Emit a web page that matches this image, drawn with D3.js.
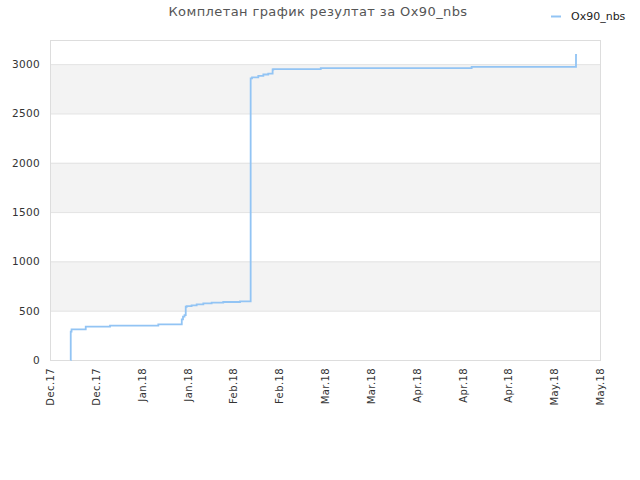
<!DOCTYPE html>
<html>
<head>
<meta charset="utf-8">
<script src="https://cdn.jsdelivr.net/npm/d3@7"></script>
<style>
  html, body { margin: 0; padding: 0; background: #fff; }
  svg { display: block; font-family: "DejaVu Sans", sans-serif; }
</style>
</head>
<body>
<svg id="chart" width="640" height="480"></svg>
<script>
// data
const seriesName = "Ox90_nbs";
const times = [
  "2017-12-16 06:00", "2017-12-16 08:00", "2017-12-16 14:00", "2017-12-20 22:00",
  "2017-12-28 08:00", "2018-01-12 02:00", "2018-01-19 06:00", "2018-01-19 15:00",
  "2018-01-20 02:00", "2018-01-20 11:00", "2018-01-20 18:00", "2018-01-22 06:00",
  "2018-01-23 19:00", "2018-01-25 20:00", "2018-01-28 09:00", "2018-01-31 22:00",
  "2018-02-06 01:00", "2018-02-09 07:00", "2018-02-09 17:00", "2018-02-11 15:00",
  "2018-02-13 04:00", "2018-02-14 16:00", "2018-02-16 00:00", "2018-02-16 05:00",
  "2018-03-02 17:00", "2018-04-17 19:00", "2018-05-19 16:00", "2018-05-19 23:00"
];
const values = [
  0, 287, 311, 338,
  348, 362, 412, 439,
  455, 540, 547, 554,
  564, 575, 581, 588,
  595, 2855, 2865, 2881,
  2895, 2905, 2946, 2949,
  2959, 2973, 3094, 3094
];
const tickLabels = [
  "Dec.17", "Dec.17", "Jan.18", "Jan.18", "Feb.18", "Feb.18", "Mar.18",
  "Mar.18", "Apr.18", "Apr.18", "Apr.18", "May.18", "May.18"
];
const yTicks = [0, 500, 1000, 1500, 2000, 2500, 3000];
const rangeStart = "2017-12-10";
const tickStepDays = 14;
const yMax = 3245;

const parseTime = d3.timeParse("%Y-%m-%d %H:%M");
const data = times.map((t, i) => ({ t: parseTime(t), v: values[i] }));
const start = d3.timeParse("%Y-%m-%d")(rangeStart);
const tickDates = tickLabels.map((_, i) => d3.timeDay.offset(start, i * tickStepDays));

const margin = { top: 40, right: 40, bottom: 120, left: 50 };
const width = 640, height = 480;

const svg = d3.select("#chart");

const x = d3.scaleTime()
  .domain([tickDates[0], tickDates[tickDates.length - 1]])
  .range([margin.left, width - margin.right]);
const y = d3.scaleLinear()
  .domain([0, yMax])
  .range([height - margin.bottom, margin.top]);

// plot background + alternating bands
svg.append("rect")
  .attr("x", margin.left).attr("y", margin.top)
  .attr("width", x.range()[1] - x.range()[0])
  .attr("height", y(0) - y(yMax))
  .attr("fill", "#eeeeee");

svg.append("g")
  .selectAll("rect")
  .data(yTicks)
  .join("rect")
  .attr("x", margin.left)
  .attr("width", x.range()[1] - x.range()[0])
  .attr("y", d => y(d + 500))
  .attr("height", d => y(d) - y(d + 500))
  .attr("fill", (d, i) => i % 2 ? "#f3f3f3" : "#ffffff");

// grid lines
svg.append("g")
  .selectAll("line")
  .data(yTicks)
  .join("line")
  .attr("x1", margin.left).attr("x2", width - margin.right)
  .attr("y1", d => y(d) + 0.5).attr("y2", d => y(d) + 0.5)
  .attr("stroke", "#e3e3e3");

// frame
svg.append("rect")
  .attr("x", margin.left + 0.5).attr("y", margin.top + 0.5)
  .attr("width", x.range()[1] - x.range()[0])
  .attr("height", y(0) - y(yMax))
  .attr("fill", "none")
  .attr("stroke", "#dddddd");

// y axis
const yAxis = svg.append("g")
  .attr("transform", `translate(${margin.left - 10},0)`)
  .call(d3.axisLeft(y).tickValues(yTicks).tickSize(0).tickPadding(0)
    .tickFormat(d3.format("d")));
yAxis.select(".domain").remove();
yAxis.selectAll("text")
  .attr("fill", "#333")
  .style("font-size", "10.5px")
  .style("letter-spacing", "0.3px")
  .style("font-family", "DejaVu Sans, sans-serif");

// x axis
const xAxis = svg.append("g")
  .attr("transform", `translate(0,${height - margin.bottom})`)
  .call(d3.axisBottom(x).tickValues(tickDates).tickSize(0)
    .tickFormat((d, i) => tickLabels[i]));
xAxis.select(".domain").remove();
xAxis.selectAll("text")
  .attr("fill", "#333")
  .style("font-size", "10px")
  .style("letter-spacing", "0.4px")
  .style("font-family", "DejaVu Sans, sans-serif")
  .attr("text-anchor", "end")
  .attr("dy", "0.35em")
  .attr("transform", "translate(0,8) rotate(-90)")
  .attr("x", 0).attr("y", 0);

// series line
const line = d3.line()
  .curve(d3.curveStepAfter)
  .x(d => x(d.t))
  .y(d => y(d.v));

svg.append("path")
  .datum(data)
  .attr("d", line)
  .attr("fill", "none")
  .attr("stroke", "#92c4f4")
  .attr("stroke-width", 1.8);

// title
svg.append("text")
  .attr("x", 318).attr("y", 16)
  .attr("text-anchor", "middle")
  .attr("fill", "#555")
  .style("font-size", "13px")
  .style("letter-spacing", "0.4px")
  .text("Комплетан график резултат за " + seriesName);

// legend
const legend = svg.append("g").attr("transform", "translate(551,16)");
legend.append("line")
  .attr("x1", 0).attr("x2", 10)
  .attr("y1", 0.5).attr("y2", 0.5)
  .attr("stroke", "#92c4f4")
  .attr("stroke-width", 2);
legend.append("text")
  .attr("x", 20).attr("y", 4)
  .attr("fill", "#222")
  .style("font-size", "11px")
  .text(seriesName);
</script>
</body>
</html>
